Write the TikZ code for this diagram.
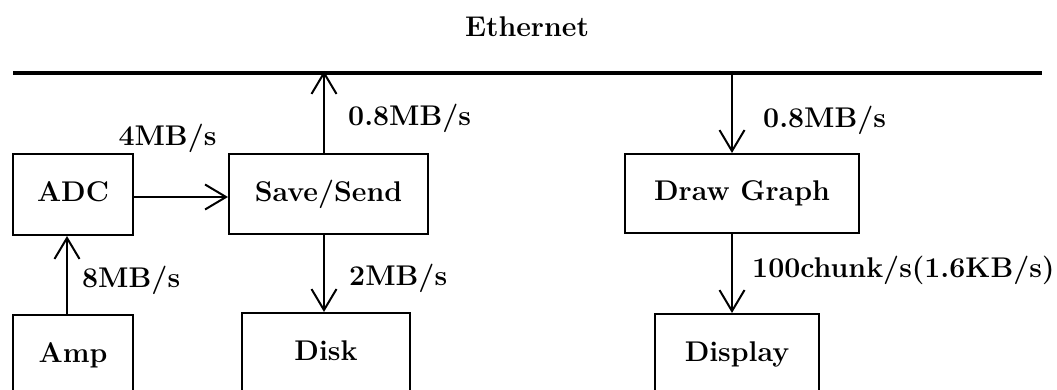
\documentclass[tikz,border=0pt]{standalone}
\usetikzlibrary{arrows.meta}
\begin{document}
\begin{tikzpicture}[x=1pt,y=-1pt,
  every node/.style={font=\fontsize{28.5}{34}\selectfont\bfseries},
  unit/.style={draw,line width=2pt,inner sep=0pt,text height=20pt,text depth=6pt},
  flow/.style={line width=2pt,-{Straight Barb[length=21pt,width=25pt,line width=2pt]}},
  rate/.style={anchor=base west,inner sep=0pt},
  bus/.style={line width=4pt}]
\useasboundingbox (0,0) rectangle (1057,390);
\clip (0,0) rectangle (1057,390);

% network bus
\node[anchor=base,inner sep=0pt] (netlabel) at (527,37) {Ethernet};
\coordinate (busL) at (13,73);
\coordinate (busR) at (1042,73);
\draw[bus] (busL) -- (busR);

% processing units
\node[unit,minimum width=120pt,minimum height=81pt] (adc) at (73,194.5) {ADC};
\node[unit,minimum width=120pt,minimum height=81pt] (amp) at (73,355.5) {Amp};
\node[unit,minimum width=199pt,minimum height=80pt] (save) at (328.5,194) {Save/Send};
\node[unit,minimum width=168pt,minimum height=81pt] (disk) at (326,353.5) {Disk};
\node[unit,minimum width=234pt,minimum height=79pt] (graph) at (742,193.5) {Draw Graph};
\node[unit,minimum width=164pt,minimum height=81pt] (disp) at (737,354.5) {Display};

% taps on the bus
\coordinate (up) at (324,73);
\coordinate (down) at (732,73);

% data flow
\draw[flow] (amp.north -| 67,0) -- (adc.south -| 67,0);
\draw[flow] (adc.east |- 0,197) -- (save.west |- 0,197);
\draw[flow] (save.north -| up) -- ([yshift=2pt]up);
\draw[flow] (save.south -| up) -- (disk.north -| up);
\draw[flow] ([yshift=2pt]down) -- (graph.north -| down);
\draw[flow] (graph.south -| down) -- (disp.north -| down);

% rates
\node[anchor=base,inner sep=0pt] (r4) at (167.5,146) {4MB/s};
\node[rate] (r8) at (82,287) {8MB/s};
\node[rate] (rup) at (348,126) {0.8MB/s};
\node[rate] (r2) at (349,285) {2MB/s};
\node[rate] (rdown) at (763,128) {0.8MB/s};
\node[rate] (rchunk) at (752,277) {100chunk/s(1.6KB/s)};
\end{tikzpicture}
\end{document}
